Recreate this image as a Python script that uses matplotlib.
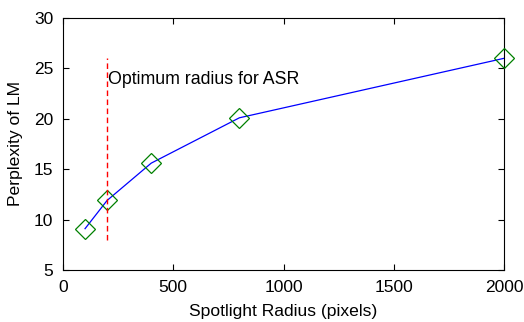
import matplotlib
matplotlib.use('Agg')
import matplotlib.pyplot as plt
import numpy as np

plt.rcParams['font.family'] = ['Liberation Sans', 'DejaVu Sans']
plt.rcParams['font.size'] = 11

# spotlight radius vs perplexity
radius = [100, 200, 400, 800, 2000]
perplexity = [9.1, 11.9, 15.6, 20.1, 26.0]

opt_radius = 200
opt_span = [8, 26]
note = 'Optimum radius for ASR'

fig = plt.figure(figsize=(5.24, 3.22), dpi=100, facecolor='w')
ax = fig.add_axes([63/524, 1 - 270/322, 441/524, 252/322])

ax.plot(radius, perplexity, '-', color='#0000ff', lw=0.9, zorder=2)
ax.plot(radius, perplexity, 'D', mfc='none', mec='#008000', ms=10, mew=0.9, clip_on=False, zorder=3)
ax.plot([opt_radius, opt_radius], opt_span, '--', color='#ff0000', lw=1, dashes=(4, 2.5), zorder=4)
ax.text(opt_radius + 5, 23.9, note, ha='left', va='center', fontsize=12.8)

ax.set_xlim(0, 2000)
ax.set_ylim(5, 30)
ax.set_xticks([0, 500, 1000, 1500, 2000])
ax.set_yticks([5, 10, 15, 20, 25, 30])
ax.tick_params(direction='in', top=True, right=True, labelsize=12.5, length=4, pad=7)
ax.set_xlabel('Spotlight Radius (pixels)', fontsize=12.6, labelpad=7)
ax.set_ylabel('Perplexity of LM', fontsize=12.6, labelpad=8)

plt.savefig('out.png', dpi=100, facecolor='w')
